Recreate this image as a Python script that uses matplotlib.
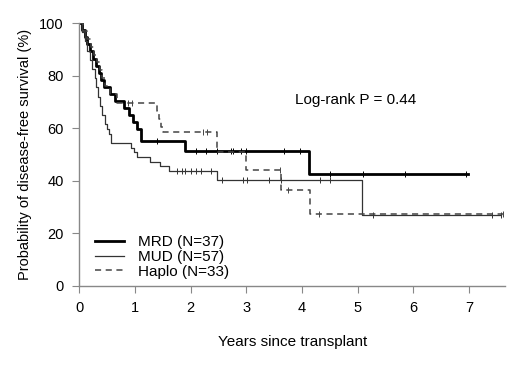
import matplotlib.pyplot as plt
import numpy as np

plt.rcParams['font.family'] = ['Liberation Sans', 'DejaVu Sans']

# Kaplan-Meier step points (years, survival %)
mrd_t = [0, 0.05, 0.1, 0.15, 0.2, 0.25, 0.3, 0.35, 0.4, 0.45, 0.55, 0.65, 0.8, 0.9, 0.97, 1.04, 1.12, 1.9, 4.13]
mrd_s = [100, 97.3, 94.6, 91.9, 89.2, 86.5, 83.8, 81.1, 78.4, 75.7, 73.0, 70.3, 67.6, 64.9, 62.2, 59.5, 55.2, 51.2, 42.7]
mrd_end = 6.97
mrd_cens_t = [1.4, 2.09, 2.27, 2.48, 2.72, 2.77, 2.9, 2.99, 3.67, 3.97, 4.5, 5.1, 5.85, 6.95]

mud_t = [0, 0.05, 0.1, 0.15, 0.2, 0.24, 0.28, 0.31, 0.34, 0.38, 0.42, 0.46, 0.5, 0.53, 0.57, 0.93, 0.98, 1.04, 1.28, 1.45, 1.62, 2.48, 5.08]
mud_s = [100, 96.5, 93.0, 89.5, 86.0, 82.5, 79.0, 75.5, 72.0, 68.5, 65.0, 61.4, 59.6, 57.9, 54.4, 52.6, 50.9, 49.0, 47.2, 45.5, 43.7, 40.3, 26.8]
mud_end = 7.57
mud_cens_t = [1.76, 1.85, 1.9, 2.0, 2.09, 2.18, 2.36, 2.57, 2.95, 3.02, 3.4, 3.62, 4.33, 4.5, 5.27, 7.4, 7.57]

haplo_t = [0, 0.08, 0.15, 0.22, 0.27, 0.33, 0.38, 0.42, 0.47, 0.55, 0.68, 1.4, 1.44, 1.47, 1.5, 2.48, 2.99, 3.62, 4.15]
haplo_s = [100, 97, 94, 91, 88, 85, 82, 79, 76, 73, 69.7, 66.7, 63.6, 60.6, 58.5, 51, 44, 36.5, 27.3]
haplo_end = 7.6
haplo_cens_t = [0.88, 0.95, 2.23, 2.3, 3.6, 3.74, 4.3, 7.6]

labels = ['MRD (N=37)', 'MUD (N=57)', 'Haplo (N=33)']


def surv_at(ts, ss, x):
    idx = np.searchsorted(ts, x, side='right') - 1
    return np.array(ss)[idx]


fig = plt.figure(figsize=(5.2, 3.66), dpi=100)
ax = fig.add_axes([0.152, 0.219, 0.82, 0.718])

styles = [
    (mrd_t, mrd_s, mrd_end, mrd_cens_t, dict(color='black', lw=2.0, ls='-')),
    (mud_t, mud_s, mud_end, mud_cens_t, dict(color='#333333', lw=0.9, ls='-')),
    (haplo_t, haplo_s, haplo_end, haplo_cens_t, dict(color='#444444', lw=1.1, ls=(0, (4, 3)))),
]
for (ts, ss, end, ct, st), lab in zip(styles, labels):
    ax.step(ts + [end], ss + [ss[-1]], where='post', label=lab, **st)
    ax.plot(ct, surv_at(ts, ss, ct), ls='none', marker='|', ms=5, mew=0.7, color=st['color'])

ax.set_xlim(0, 7.65)
ax.set_ylim(0, 100)
ax.set_xticks(range(8))
ax.set_yticks(range(0, 101, 20))
for side in ['top', 'right']:
    ax.spines[side].set_visible(False)
for side in ['left', 'bottom']:
    ax.spines[side].set_color('#888888')
    ax.spines[side].set_linewidth(1.0)
ax.tick_params(direction='out', length=5, width=0.8, color='#888888', labelsize=10.5, pad=6)

ax.set_xlabel('Years since transplant', fontsize=11, labelpad=14)
ax.set_ylabel('Probability of disease-free survival (%)', fontsize=10.5, labelpad=5)
ax.text(3.88, 70.7, 'Log-rank P = 0.44', fontsize=11, va='center')

ax.legend(loc='lower left', bbox_to_anchor=(0.005, -0.025), frameon=False, fontsize=11,
          handlelength=1.9, labelspacing=0.05, handletextpad=0.9)

fig.savefig('out.png', dpi=100)
